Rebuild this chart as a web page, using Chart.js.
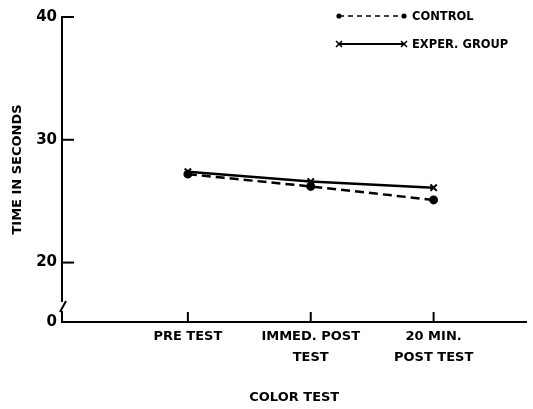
<!DOCTYPE html>
<html><head><meta charset="utf-8">
<script src="https://cdn.jsdelivr.net/npm/chart.js@4/dist/chart.umd.min.js"></script>
<style>html,body{margin:0;padding:0;background:#fff}#wrap{width:533px;height:409px;position:relative}</style>
</head><body><div id="wrap"><canvas id="c"></canvas></div>
<script>
const CATEGORIES = [["PRE TEST"], ["IMMED. POST", "TEST"], ["20 MIN.", "POST TEST"]];
const CONTROL = [27.2, 26.2, 25.1];
const EXPER = [27.4, 26.6, 26.1];
const Y_TICK_VALUES = [15.16, 20, 30, 40];
const Y_TICK_LABELS = ["0", "20", "30", "40"];
const SERIES_NAMES = ["CONTROL", "EXPER. GROUP"];
const X_TITLE = "COLOR TEST";
const Y_TITLE = "TIME IN SECONDS";

const FONT = "'DejaVu Sans', sans-serif";
const toPoints = arr => arr.map((v, i) => ({x: i + 1, y: v}));

const decor = {
  id: 'decor',
  afterDraw(chart) {
    const ctx = chart.ctx;
    const xs = chart.scales.x, ys = chart.scales.y;
    const x0 = chart.chartArea.left, y0 = chart.chartArea.bottom;
    ctx.save();
    ctx.strokeStyle = '#000';
    ctx.fillStyle = '#000';
    ctx.lineWidth = 2;
    Y_TICK_VALUES.slice(1).forEach(v => {
      const py = ys.getPixelForValue(v);
      ctx.beginPath(); ctx.moveTo(x0, py); ctx.lineTo(x0 + 12, py); ctx.stroke();
    });
    CATEGORIES.forEach((c, i) => {
      const px = xs.getPixelForValue(i + 1);
      ctx.beginPath(); ctx.moveTo(px, y0); ctx.lineTo(px, y0 - 10); ctx.stroke();
    });
    ctx.fillStyle = '#fff';
    ctx.fillRect(x0 - 3, y0 - 20, 6, 9);
    ctx.beginPath(); ctx.moveTo(x0 + 4, y0 - 21); ctx.lineTo(x0 - 2, y0 - 10); ctx.stroke();
    ctx.fillStyle = '#000';
    ctx.font = 'bold 11.5px ' + FONT;
    ctx.textBaseline = 'middle';
    ctx.textAlign = 'left';
    const lx1 = 339, lx2 = 404, tx = 412;
    let ly = 16;
    ctx.lineWidth = 1.6;
    ctx.setLineDash([5, 4]);
    ctx.beginPath(); ctx.moveTo(lx1, ly); ctx.lineTo(lx2, ly); ctx.stroke();
    ctx.setLineDash([]);
    [lx1, lx2].forEach(x => { ctx.beginPath(); ctx.arc(x, ly, 2.6, 0, Math.PI * 2); ctx.fill(); });
    ctx.fillText(SERIES_NAMES[0], tx, ly + 1);
    ly = 44;
    ctx.lineWidth = 2;
    ctx.beginPath(); ctx.moveTo(lx1, ly); ctx.lineTo(lx2, ly); ctx.stroke();
    ctx.lineWidth = 1.6;
    [lx1, lx2].forEach(x => {
      ctx.beginPath();
      ctx.moveTo(x - 3, ly - 3); ctx.lineTo(x + 3, ly + 3);
      ctx.moveTo(x + 3, ly - 3); ctx.lineTo(x - 3, ly + 3);
      ctx.stroke();
    });
    ctx.fillText(SERIES_NAMES[1], tx, ly + 1);
    ctx.restore();
  }
};

new Chart(document.getElementById('c'), {
  type: 'line',
  data: {
    datasets: [
      {
        label: SERIES_NAMES[0], data: toPoints(CONTROL),
        borderColor: '#000', backgroundColor: '#000', borderWidth: 2.5,
        borderDash: [9, 5], pointStyle: 'circle', pointRadius: 3.2,
        pointBackgroundColor: '#000', pointBorderColor: '#000', tension: 0
      },
      {
        label: SERIES_NAMES[1], data: toPoints(EXPER),
        borderColor: '#000', backgroundColor: '#000', borderWidth: 2.5,
        pointStyle: 'crossRot', pointRadius: 4.5, pointBorderWidth: 2,
        pointBorderColor: '#000', tension: 0
      }
    ]
  },
  options: {
    responsive: true, maintainAspectRatio: false, animation: false, devicePixelRatio: 1,
    layout: {padding: {top: 17, right: 6, left: 0, bottom: 0}},
    plugins: {legend: {display: false}, tooltip: {enabled: false}},
    scales: {
      x: {
        type: 'linear', min: -0.0244, max: 3.756,
        grid: {display: false, drawTicks: false},
        border: {display: true, color: '#000', width: 2},
        afterBuildTicks: s => { s.ticks = CATEGORIES.map((c, i) => ({value: i + 1})); },
        afterFit: s => { s.height = 87; },
        ticks: {
          color: '#000', padding: 4, maxRotation: 0, autoSkip: false,
          font: {family: FONT, size: 13, weight: 'bold', lineHeight: 1.6},
          callback: v => CATEGORIES[Math.round(v) - 1]
        },
        title: {
          display: true, text: X_TITLE, color: '#000',
          font: {family: FONT, size: 13, weight: 'bold'},
          padding: {top: 0, bottom: 4}
        }
      },
      y: {
        type: 'linear', min: Y_TICK_VALUES[0], max: 40,
        grid: {display: false, drawTicks: false},
        border: {display: true, color: '#000', width: 2},
        afterBuildTicks: s => { s.ticks = Y_TICK_VALUES.map(v => ({value: v})); },
        afterFit: s => { s.width = 62; },
        ticks: {
          color: '#000', padding: 5,
          font: {family: FONT, size: 15, weight: 'bold'},
          callback: (v, i) => Y_TICK_LABELS[i]
        },
        title: {
          display: true, text: Y_TITLE, color: '#000',
          font: {family: FONT, size: 13, weight: 'bold'},
          padding: {top: 10, bottom: 0}
        }
      }
    }
  },
  plugins: [decor]
});
</script>
</body></html>
